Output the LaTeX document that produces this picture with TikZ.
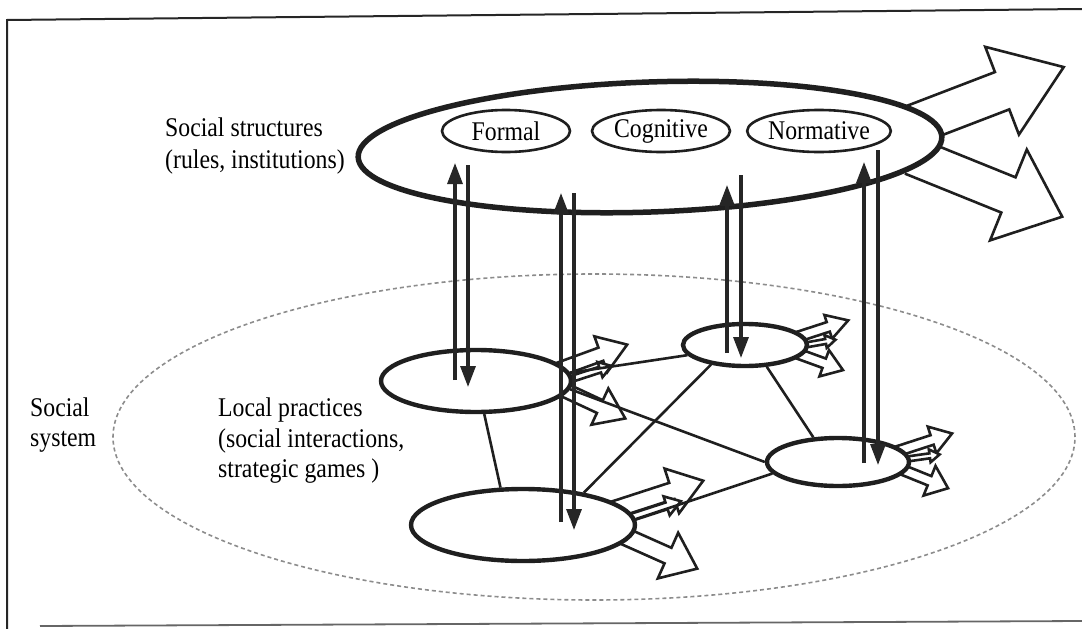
\documentclass[tikz,border=0pt]{standalone}
\usepackage{fontspec}
\setmainfont[FakeStretch=0.88]{Liberation Serif}
\usetikzlibrary{shapes.geometric,arrows.meta,backgrounds}

\begin{document}
\begin{tikzpicture}[x=1pt,y=-1pt,
  frame/.style={draw=black!85, line width=2pt},
  bigell/.style={ellipse, draw=black!88, line width=5.5pt, fill=white, inner sep=0pt},
  tagell/.style={ellipse, draw=black!88, line width=2.6pt, fill=white, inner sep=0pt,
    minimum height=42pt, font=\fontsize{27}{30}\selectfont},
  localell/.style={ellipse, draw=black!88, line width=4.4pt, fill=white, inner sep=0pt},
  link/.style={draw=black!88, line width=2.6pt},
  flow/.style={draw=black!85, line width=3.2pt, -{Triangle[length=21pt,width=15pt]}},
  hollow/.style={draw=black!88, line width=2.6pt, fill=white, line join=miter},
  system/.style={ellipse, draw=black!45, line width=1.6pt, dash pattern=on 4pt off 3pt, inner sep=0pt},
  txt/.style={align=left, inner sep=0pt, anchor=west},
  pics/fatarrow/.style n args={4}{code={
    \path[hollow] (0,{-#2/2}) -- ({#1-#4},{-#2/2}) -- ({#1-#4},{-#3/2}) -- (#1,0)
      -- ({#1-#4},{#3/2}) -- ({#1-#4},{#2/2}) -- (0,{#2/2});
  }}
]
\useasboundingbox (0,0) rectangle (1082,629);

% page frame
\coordinate (fBL) at (7,629);
\coordinate (fTL) at (7,20);
\coordinate (fTR) at (1082,9);
\coordinate (fB0) at (40,626);
\coordinate (fB1) at (1082,621);
\draw[frame] (fBL) -- (fTL) -- (fTR);
\draw[frame, draw=black!60, line width=1.8pt] (fB0) -- (fB1);

% social structures
\node[bigell, minimum width=584pt, minimum height=130pt, rotate=2] (SS) at (650,147) {};
\node[tagell, minimum width=128pt] (formal) at (506,131) {Formal};
\node[tagell, minimum width=138pt] (cogn) at (661,131) {Cognitive};
\node[tagell, minimum width=136pt] (norm) at (819,131) {Normative};

% local practices
\node[localell, minimum width=190pt, minimum height=62pt] (L1) at (476,381) {};
\node[localell, minimum width=224pt, minimum height=72pt] (L2) at (523,525) {};
\node[localell, minimum width=124pt, minimum height=42pt] (L3) at (745,345) {};
\node[localell, minimum width=142pt, minimum height=48pt] (L4) at (838,462) {};

% labels
\node[txt, font=\fontsize{27}{32}\selectfont] (ssT) at (165,146) {Social structures\\(rules, institutions)};
\node[txt, font=\fontsize{27}{30}\selectfont] (sysT) at (30,425) {Social\\system};
\node[txt, font=\fontsize{27}{30.5}\selectfont] (lpT) at (218,441) {Local practices\\(social interactions,\\strategic games )};

\begin{pgfonlayer}{background}
  % the social system boundary
  \node[system, minimum width=962pt, minimum height=326pt] (SYS) at (594,437) {};
  % outputs of the social structures
  \pic[rotate=21] at (905,128) {fatarrow={170}{40}{94}{66}};
  \pic[rotate=-22] at (912,156) {fatarrow={162}{38}{98}{58}};
  % outputs of the local practices
  \pic[rotate=20] at (552,372) {fatarrow={80}{14}{38}{28}};
  \pic[rotate=18] at (562,382) {fatarrow={52}{6}{16}{12}};
  \pic[rotate=-25] at (560,388) {fatarrow={72}{14}{40}{28}};
  \pic[rotate=18] at (610,511) {fatarrow={98}{17}{47}{33}};
  \pic[rotate=18] at (620,521) {fatarrow={64}{7}{20}{15}};
  \pic[rotate=-24] at (615,532) {fatarrow={90}{17}{50}{32}};
  \pic[rotate=18] at (794,338) {fatarrow={57}{10}{25}{21}};
  \pic[rotate=10] at (800,346) {fatarrow={36}{5}{13}{10}};
  \pic[rotate=-20] at (796,353) {fatarrow={50}{10}{28}{20}};
  \pic[rotate=18] at (895,452) {fatarrow={60}{10}{28}{21}};
  \pic[rotate=8] at (900,460) {fatarrow={40}{5}{13}{10}};
  \pic[rotate=-22] at (898,468) {fatarrow={54}{10}{32}{20}};
\end{pgfonlayer}

% interactions between local practices
\draw[link] (L1.-76) -- (L2.121);
\draw[link] (L2.28) -- (L3.-150);
\draw[link] (L1.5) -- (L3.-170);
\draw[link] (L1.-5) -- (L4.180);
\draw[link] (L2.3) -- (L4.-170);
\draw[link] (L3.-45) -- (L4.135);

% structuration: up and down between the levels
\coordinate (aU0) at (455,380); \coordinate (aU1) at (455,163);
\coordinate (aD0) at (468,165); \coordinate (aD1) at (468,387);
\coordinate (bU0) at (561,522); \coordinate (bU1) at (561,193);
\coordinate (bD0) at (574,193); \coordinate (bD1) at (574,530);
\coordinate (cU0) at (727,353); \coordinate (cU1) at (727,185);
\coordinate (cD0) at (741,175); \coordinate (cD1) at (741,358);
\coordinate (dU0) at (864,463); \coordinate (dU1) at (864,162);
\coordinate (dD0) at (878,150); \coordinate (dD1) at (878,465);
\draw[flow] (aU0) -- (aU1);
\draw[flow] (aD0) -- (aD1);
\draw[flow] (bU0) -- (bU1);
\draw[flow] (bD0) -- (bD1);
\draw[flow] (cU0) -- (cU1);
\draw[flow] (cD0) -- (cD1);
\draw[flow] (dU0) -- (dU1);
\draw[flow] (dD0) -- (dD1);
\end{tikzpicture}
\end{document}
